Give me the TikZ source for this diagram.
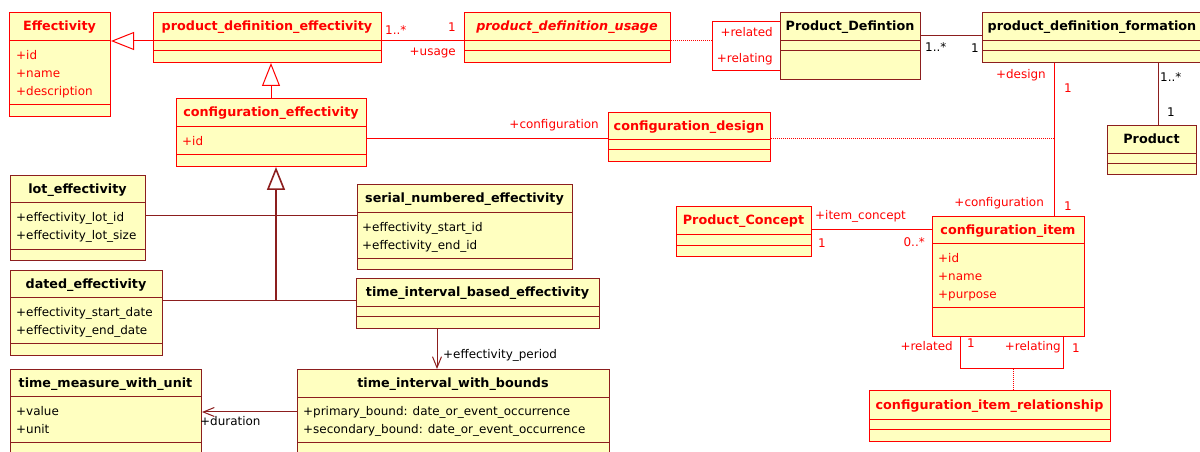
\documentclass[tikz,border=0pt]{standalone}
\usepackage{fontspec}
\setmainfont{DejaVu Sans}
\usetikzlibrary{arrows.meta,calc}
\definecolor{cfill}{RGB}{255,255,192}
\definecolor{dred}{RGB}{140,30,30}
\tikzset{
  rbox/.style={draw=red, fill=cfill, line width=1bp, inner sep=0, anchor=north west},
  dbox/.style={draw=dred, fill=cfill, line width=1bp, inner sep=0, anchor=north west},
  rtitle/.style={text=red, font=\bfseries\fontsize{12.8}{14}\selectfont, inner sep=0, anchor=base},
  dtitle/.style={text=black, font=\bfseries\fontsize{12.8}{14}\selectfont, inner sep=0, anchor=base},
  rattr/.style={text=red, font=\fontsize{12}{14}\selectfont, inner sep=0, anchor=base west},
  dattr/.style={text=black, font=\fontsize{12}{14}\selectfont, inner sep=0, anchor=base west},
  rlbl/.style={text=red, font=\fontsize{12}{14}\selectfont, inner sep=0},
  dlbl/.style={text=black, font=\fontsize{12}{14}\selectfont, inner sep=0},
  rlink/.style={draw=red, line width=1bp},
  dlink/.style={draw=dred, line width=1bp},
  rdot/.style={draw=red, line width=1bp, dash pattern=on 1bp off 1bp},
  gentip/.style={-{Triangle[length=23bp,width=18bp,fill=white]}},
  vtip/.style={-{Straight Barb[length=11bp,width=9bp]}},
}
\newcommand\umlclass[9]{%
  \node[#2box, minimum width={(#5-#3)*1bp}, minimum height={(#6-#4)*1bp}] (#1) at (#3,#4) {};
  \draw[#2link] (#3,#7) -- (#5,#7) (#3,#8) -- (#5,#8);
  \node[#2title] (#1-t) at ({(#3+#5)/2},{(#4+#7)/2+4.5}) {#9};
}
\newcommand\umlattrs[5]{%
  \foreach \t [count=\i] in {#5} {\node[#2attr] (#1-a\i) at (#3,{#4+18*(\i-1)+4.5}) {\t};}
}
\begin{document}
\begin{tikzpicture}[x=1bp,y=-1bp]
\useasboundingbox (0,0) rectangle (1200,452);
\clip (0,0) rectangle (1200,452);
% classes
\umlclass{eff}{r}{9}{12}{110}{116}{41}{105}{Effectivity}
\umlattrs{eff}{r}{16}{55}{+id,+name,+description}
\umlclass{pde}{r}{153}{12}{381}{62}{41}{51}{product\_definition\_effectivity}
\umlclass{ce}{r}{176}{98}{366}{166}{127}{155}{configuration\_effectivity}
\umlattrs{ce}{r}{182}{141}{+id}
\umlclass{pdu}{r}{464}{12}{670}{62}{41}{51}{\itshape product\_definition\_usage}
\umlclass{pd}{d}{780}{12}{920}{79}{41}{51}{Product\_Defintion}
\umlclass{pdf}{d}{982}{12}{1202}{62}{41}{51}{product\_definition\_formation}
\umlclass{cd}{r}{608}{112}{770}{161}{140}{150}{configuration\_design}
\umlclass{prod}{d}{1107}{125}{1196}{174}{154}{164}{Product}
\umlclass{lot}{d}{10}{175}{145}{260}{203}{250}{lot\_effectivity}
\umlattrs{lot}{d}{16}{217}{+effectivity\_lot\_id,+effectivity\_lot\_size}
\umlclass{dated}{d}{10}{270}{162}{355}{298}{344}{dated\_effectivity}
\umlattrs{dated}{d}{16}{312}{+effectivity\_start\_date,+effectivity\_end\_date}
\umlclass{sne}{d}{357}{184}{572}{269}{213}{259}{serial\_numbered\_effectivity}
\umlattrs{sne}{d}{362}{227}{+effectivity\_start\_id,+effectivity\_end\_id}
\umlclass{tibe}{d}{356}{278}{599}{328}{307}{317}{time\_interval\_based\_effectivity}
\umlclass{tiwb}{d}{297}{369}{609}{470}{398}{443}{time\_interval\_with\_bounds}
\umlattrs{tiwb}{d}{303}{411}{+primary\_bound: date\_or\_event\_occurrence,+secondary\_bound: date\_or\_event\_occurrence}
\umlclass{tmwu}{d}{10}{369}{201}{470}{397}{443}{time\_measure\_with\_unit}
\umlattrs{tmwu}{d}{16}{411}{+value,+unit}
\umlclass{pc}{r}{676}{206}{811}{256}{235}{246}{Product\_Concept}
\umlclass{ci}{r}{932}{216}{1084}{336}{244}{308}{configuration\_item}
\umlattrs{ci}{r}{938}{258}{+id,+name,+purpose}
\umlclass{cir}{r}{869}{390}{1110}{441}{420}{430}{configuration\_item\_relationship}
% generalizations
\draw[rlink, gentip] (pde.west |- 0,41) -- (eff.east |- 0,41);
\draw[rlink, gentip] (ce.north -| 271,0) -- (pde.south -| 271,0);
\coordinate (j) at (276,301);
\draw[dlink] (dated.east |- j) -- (tibe.west |- j);
\draw[dlink] (lot.east |- 0,216) -- (sne.west |- 0,216);
\draw[dlink, line width=1.6bp, gentip] (j) -- (ce.south -| j);
% associations
\draw[rlink] (pde.east |- 0,41) -- (pdu.west |- 0,41);
\coordinate (pdl1) at (712,22);
\coordinate (pdl2) at (712,71);
\coordinate (pdlm) at (712,41);
\draw[rlink] (pd.west |- pdl1) -- (pdl1) -- (pdl2) -- (pd.west |- pdl2);
\draw[rdot] (pdu.east |- pdlm) -- (pdlm);
\draw[dlink] (pd.east |- 0,36) -- (pdf.west |- 0,36);
\draw[rlink] (pdf.south -| 1054,0) -- (ci.north -| 1054,0);
\coordinate (cdj) at (1054,139);
\draw[rdot] (cd.east |- cdj) -- (cdj);
\draw[rlink] (ce.east |- 0,139) -- (cd.west |- 0,139);
\draw[dlink] (pdf.south -| 1158,0) -- (prod.north -| 1158,0);
\draw[rlink] (pc.east |- 0,230) -- (ci.west |- 0,230);
\coordinate (cil1) at (960,369);
\coordinate (cil2) at (1063,369);
\coordinate (cilm) at (1013,369);
\draw[rlink] (ci.south -| cil1) -- (cil1) -- (cil2) -- (ci.south -| cil2);
\draw[rdot] (cilm) -- (cir.north -| cilm);
\draw[dlink, vtip] (tibe.south -| 437,0) -- (tiwb.north -| 437,0);
\draw[dlink, vtip] (tiwb.west |- 0,412) -- (tmwu.east |- 0,412);
% labels
\node[rlbl, anchor=base west] (l1) at (385,35) {1..*};
\node[rlbl, anchor=base east] (l2) at (456,32) {1};
\node[rlbl, anchor=base east] (l3) at (456,56) {+usage};
\node[rlbl, anchor=base east] (l4) at (773,37) {+related};
\node[rlbl, anchor=base east] (l5) at (773,63) {+relating};
\node[rlbl, anchor=base east] (l6) at (599,129) {+configuration};
\node[rlbl, anchor=base east] (l7) at (1046,79) {+design};
\node[rlbl, anchor=base west] (l8) at (1064,93) {1};
\node[rlbl, anchor=base east] (l9) at (1044,207) {+configuration};
\node[rlbl, anchor=base west] (l10) at (1064,211) {1};
\node[rlbl, anchor=base west] (l11) at (815,220) {+item\_concept};
\node[rlbl, anchor=base west] (l12) at (818,248) {1};
\node[rlbl, anchor=base east] (l13) at (925,247) {0..*};
\node[rlbl, anchor=base east] (l14) at (953,351) {+related};
\node[rlbl, anchor=base west] (l15) at (967,348) {1};
\node[rlbl, anchor=base east] (l16) at (1061,351) {+relating};
\node[rlbl, anchor=base west] (l17) at (1072,353) {1};
\node[dlbl, anchor=base west] (d1) at (925,52) {1..*};
\node[dlbl, anchor=base west] (d2) at (971,53) {1};
\node[dlbl, anchor=base west] (d3) at (1160,82) {1..*};
\node[dlbl, anchor=base west] (d4) at (1167,117) {1};
\node[dlbl, anchor=base west] (d5) at (443,359) {+effectivity\_period};
\node[dlbl, anchor=base west] (d6) at (200,426) {+duration};
\end{tikzpicture}
\end{document}
